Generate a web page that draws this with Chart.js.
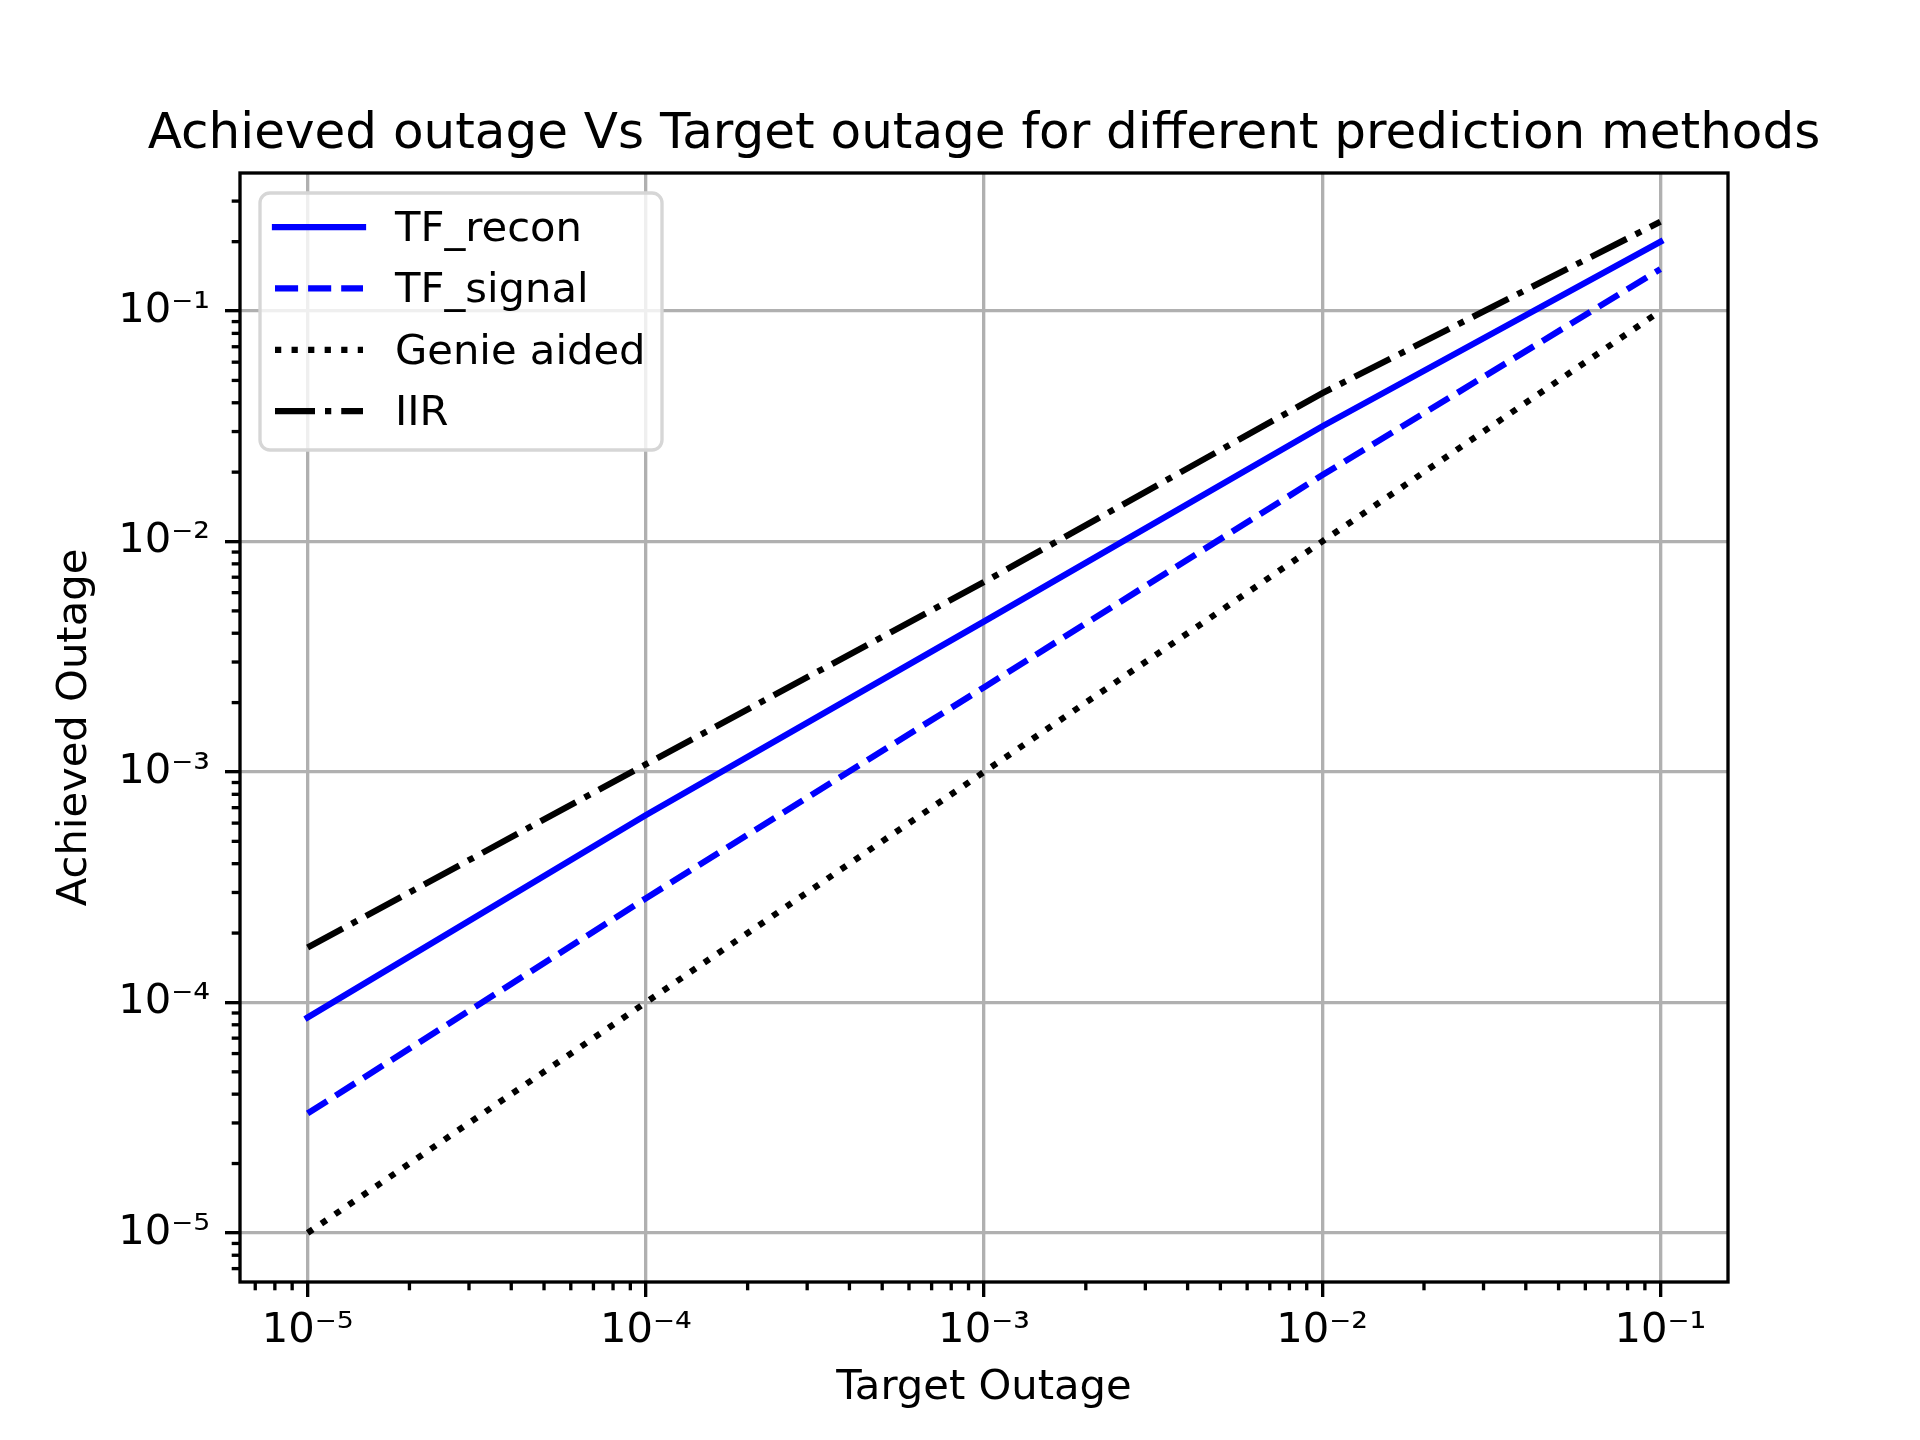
<!DOCTYPE html>
<html>
<head>
<meta charset="utf-8">
<script src="https://cdn.jsdelivr.net/npm/chart.js@4.4.1/dist/chart.umd.min.js"></script>
<style>
  html, body { margin: 0; padding: 0; background: #fff; }
  canvas { display: block; }
</style>
</head>
<body>
<canvas id="outageChart" width="1920" height="1440"></canvas>
<script>
// target outage (x) and achieved outage (y) per method
var targetOutage = [1e-5, 1e-4, 1e-3, 1e-2, 1e-1];
var tfRecon  = [8.6e-5, 6.5e-4, 4.5e-3, 3.16e-2, 0.20];
var tfSignal = [3.3e-5, 2.83e-4, 2.33e-3, 1.94e-2, 0.152];
var genie    = [1e-5, 1e-4, 1e-3, 1e-2, 1e-1];
var iir      = [1.73e-4, 1.08e-3, 6.67e-3, 4.4e-2, 0.244];

var seriesNames = ['TF_recon', 'TF_signal', 'Genie aided', 'IIR'];
var decadeTicks = [1e-5, 1e-4, 1e-3, 1e-2, 1e-1];
var titleText = 'Achieved outage Vs Target outage for different prediction methods';

var LW = 6.25;          // 1.5pt at 300dpi
var AX = 3.33;          // 0.8pt
var FONT = 'DejaVu Sans';

Chart.defaults.color = '#000';
Chart.defaults.font.family = FONT;

function toPoints(ys) {
    return ys.map(function (y, i) { return { x: targetOutage[i], y: y }; });
}

function supExp(v) {
    var sup = { '-': '\u207B', '0': '\u2070', '1': '\u00B9', '2': '\u00B2', '3': '\u00B3',
        '4': '\u2074', '5': '\u2075', '6': '\u2076', '7': '\u2077', '8': '\u2078', '9': '\u2079' };
    var e = String(Math.round(Math.log10(v)));
    return '10' + e.split('').map(function (c) { return sup[c]; }).join('');
}

function minorValues(lo, hi) {
    var out = [];
    for (var p = -7; p <= 0; ++p) {
        for (var m = 2; m <= 9; ++m) {
            var v = m * Math.pow(10, p);
            if (v >= lo && v <= hi) out.push(v);
        }
    }
    return out;
}

var xMin = Math.pow(10, -5.2), xMax = Math.pow(10, -0.8);
var yMin = Math.pow(10, -5.213), yMax = Math.pow(10, -0.401);

// title, spines, minor ticks and the framed legend
var framePlugin = {
    id: 'frame',
    afterDraw: function (chart) {
        var ctx = chart.ctx, a = chart.chartArea;
        var xs = chart.scales.x, ys = chart.scales.y;
        ctx.save();

        ctx.fillStyle = '#000';
        ctx.font = '50px ' + FONT;
        ctx.textAlign = 'center';
        ctx.textBaseline = 'alphabetic';
        ctx.fillText(titleText, (a.left + a.right) / 2, a.top - 25);

        ctx.strokeStyle = '#000';
        ctx.lineWidth = AX;
        ctx.setLineDash([]);
        minorValues(xMin, xMax).forEach(function (v) {
            var px = xs.getPixelForValue(v);
            ctx.beginPath(); ctx.moveTo(px, a.bottom); ctx.lineTo(px, a.bottom + 8.3); ctx.stroke();
        });
        minorValues(yMin, yMax).forEach(function (v) {
            var py = ys.getPixelForValue(v);
            ctx.beginPath(); ctx.moveTo(a.left, py); ctx.lineTo(a.left - 8.3, py); ctx.stroke();
        });
        ctx.strokeRect(a.left, a.top, a.right - a.left, a.bottom - a.top);

        // legend
        var lx = a.left + 20, ly = a.top + 20, lw = 402, lh = 257, r = 10;
        ctx.beginPath();
        ctx.moveTo(lx + r, ly);
        ctx.arcTo(lx + lw, ly, lx + lw, ly + lh, r);
        ctx.arcTo(lx + lw, ly + lh, lx, ly + lh, r);
        ctx.arcTo(lx, ly + lh, lx, ly, r);
        ctx.arcTo(lx, ly, lx + lw, ly, r);
        ctx.closePath();
        ctx.fillStyle = 'rgba(255,255,255,0.8)';
        ctx.fill();
        ctx.strokeStyle = '#d6d6d6';
        ctx.lineWidth = AX;
        ctx.stroke();

        ctx.font = '41.7px ' + FONT;
        ctx.textBaseline = 'alphabetic';
        ctx.textAlign = 'left';
        chart.data.datasets.forEach(function (ds, i) {
            var cy = a.top + 54 + i * 61.4;
            ctx.strokeStyle = ds.borderColor;
            ctx.lineWidth = LW;
            ctx.lineCap = ds.borderCapStyle || 'butt';
            ctx.setLineDash(ds.borderDash || []);
            ctx.beginPath(); ctx.moveTo(a.left + 35, cy); ctx.lineTo(a.left + 123, cy); ctx.stroke();
            ctx.setLineDash([]);
            ctx.fillStyle = '#000';
            ctx.fillText(ds.label, a.left + 155, cy + 14);
        });
        ctx.restore();
    }
};

var ctx = document.getElementById('outageChart').getContext('2d');
var chart = new Chart(ctx, {
    type: 'line',
    data: {
        datasets: [{
            label: seriesNames[0], data: toPoints(tfRecon),
            borderColor: '#0000ff', borderWidth: LW, borderCapStyle: 'square'
        }, {
            label: seriesNames[1], data: toPoints(tfSignal),
            borderColor: '#0000ff', borderWidth: LW, borderDash: [23.1, 10]
        }, {
            label: seriesNames[2], data: toPoints(genie),
            borderColor: '#000000', borderWidth: LW, borderDash: [6.25, 10.3]
        }, {
            label: seriesNames[3], data: toPoints(iir),
            borderColor: '#000000', borderWidth: LW, borderDash: [40, 10, 6.25, 10]
        }]
    },
    options: {
        responsive: false,
        animation: false,
        devicePixelRatio: 1,
        elements: { point: { radius: 0 }, line: { tension: 0, fill: false } },
        layout: { padding: { top: 173, left: 0, right: 192, bottom: 0 } },
        plugins: {
            legend: { display: false },
            tooltip: { enabled: false },
            title: { display: false }
        },
        scales: {
            x: {
                type: 'logarithmic', min: xMin, max: xMax, bounds: 'data',
                afterBuildTicks: function (s) { s.ticks = decadeTicks.map(function (v) { return { value: v }; }); },
                afterFit: function (s) { s.height = 158; },
                ticks: {
                    callback: function (v) { return supExp(v); },
                    autoSkip: false, maxRotation: 0, padding: 9,
                    font: { size: 41.7 }, major: { enabled: false }
                },
                grid: { color: '#b0b0b0', lineWidth: AX, tickColor: '#000', tickWidth: AX, tickLength: 15 },
                border: { display: false },
                title: { display: true, text: 'Target Outage', font: { size: 41.7 }, padding: { top: 0, bottom: 27 } }
            },
            y: {
                type: 'logarithmic', min: yMin, max: yMax, bounds: 'data',
                afterBuildTicks: function (s) { s.ticks = decadeTicks.map(function (v) { return { value: v }; }); },
                afterFit: function (s) { s.width = 240; },
                ticks: {
                    callback: function (v) { return supExp(v); },
                    autoSkip: false, padding: 15,
                    font: { size: 41.7 }, major: { enabled: false }
                },
                grid: { color: '#b0b0b0', lineWidth: AX, tickColor: '#000', tickWidth: AX, tickLength: 15 },
                border: { display: false },
                title: { display: true, text: 'Achieved Outage', font: { size: 41.7 }, padding: { top: 50, bottom: 0 } }
            }
        }
    },
    plugins: [framePlugin]
});
</script>
</body>
</html>
